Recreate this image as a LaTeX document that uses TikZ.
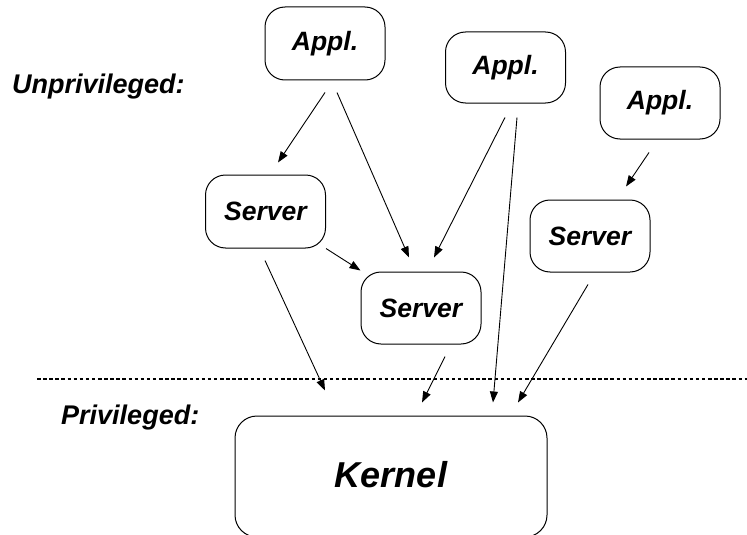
\documentclass[tikz,border=0pt]{standalone}
\usepackage{fontspec}
\setmainfont{Liberation Sans}
\usetikzlibrary{arrows.meta}
\tikzset{
  box/.style={draw=black, line width=1pt, rounded corners=20pt, inner sep=0pt,
    minimum width=120pt, minimum height=72pt,
    font=\fontsize{26.5}{30}\selectfont\bfseries\itshape},
  kbox/.style={draw=black, line width=1pt, rounded corners=22pt, inner sep=0pt,
    minimum width=312pt, minimum height=121pt,
    font=\fontsize{36}{40}\selectfont\bfseries\itshape},
  lbl/.style={inner sep=0pt, anchor=base west,
    font=\fontsize{27}{30}\selectfont\bfseries\itshape},
  arr/.style={line width=0.9pt, -{Triangle[length=11pt,width=8pt]}},
  sep/.style={line width=1.2pt, dash pattern=on 3.5pt off 2.6pt}
}
\begin{document}
\begin{tikzpicture}[x=1pt,y=-1pt]
\useasboundingbox (0,0) rectangle (747,535);
% labels
\node[lbl] (unpriv) at (12,93) {Unprivileged:};
\node[lbl] (priv) at (61,424) {Privileged:};
% separator
\coordinate (sepL) at (37,379);
\coordinate (sepR) at (747,379);
\draw[sep] (sepL) -- (sepR);
% boxes
\node[box, minimum height=73pt] (a1) at (325,43.5) {Appl.};
\node[box, minimum height=71pt] (a2) at (505.5,67.5) {Appl.};
\node[box] (a3) at (660,103) {Appl.};
\node[box, minimum height=73pt] (s1) at (265.5,211.5) {Server};
\node[box] (s2) at (421,308) {Server};
\node[box] (s3) at (590,236) {Server};
\node[kbox] (k) at (391,476.5) {};
\node[inner sep=0pt, font=\fontsize{36}{40}\selectfont\bfseries\itshape] (ktext) at (391,475) {Kernel};
% arrows
\draw[arr] ([shift={(0,12)}]a1.south) -- ([shift={(12.5,-12)}]s1.north);
\draw[arr] ([shift={(12,12)}]a1.south) -- ([shift={(-12,-14)}]s2.north);
\draw[arr] ([shift={(-0.5,14)}]a2.south) -- ([shift={(13,-14)}]s2.north);
\draw[arr] ([shift={(11.5,14)}]a2.south) -- ([shift={(102,-13)}]k.north);
\draw[arr] ([shift={(-11,13)}]a3.south) -- ([shift={(36,-13)}]s3.north);
\draw[arr] ([shift={(0,0)}]s1.south east) -- ([shift={(0,-1)}]s2.north west);
\draw[arr] ([shift={(-0.5,12)}]s1.south) -- ([shift={(-66,-25)}]k.north);
\draw[arr] ([shift={(24,12)}]s2.south) -- ([shift={(31,-13)}]k.north);
\draw[arr] ([shift={(-2,12)}]s3.south) -- ([shift={(127,-13)}]k.north);
\end{tikzpicture}
\end{document}
